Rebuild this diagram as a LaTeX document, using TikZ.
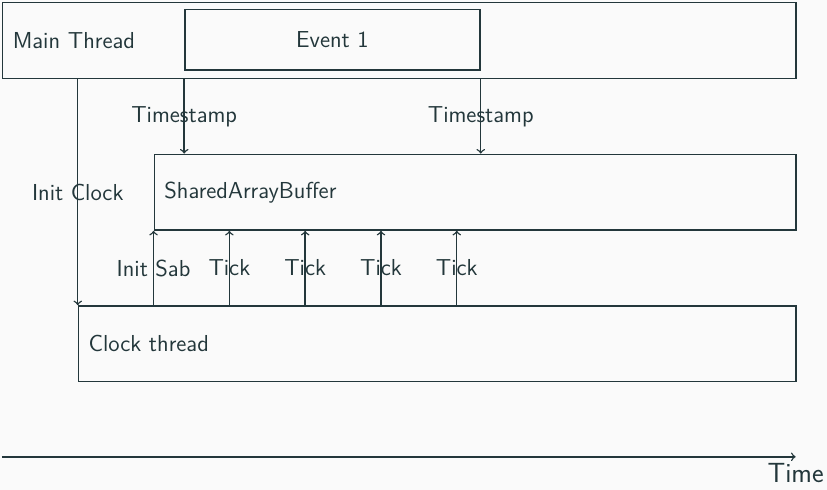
\documentclass[tikz,border=0pt]{standalone}
\usepackage{fontspec}
\definecolor{mdarkteal}{RGB}{35,55,59}
\definecolor{mbackground}{RGB}{250,250,250}

\begin{document}
\begin{tikzpicture}[x=1.5cm,y=1.5cm,color=mdarkteal,font=\sffamily\fontsize{13}{15.6}\selectfont]

%
% Styles
%
\tikzstyle{thread} = [draw,rectangle,anchor=north west,minimum height=1.5cm,inner xsep=0.2cm,align=left,thick]
\tikzstyle{event}  = [draw,rectangle,minimum width=5.84cm,minimum height=1.2cm,thick]
\tikzstyle{edge}   = [->,thick]

\useasboundingbox[fill=mbackground] (-0.026,0.026) rectangle (10.884,-6.438);

% threads and the shared buffer
\node[thread,text width=15.3cm] (main)  at (0,0)     {Main Thread};
\node[event]                    (event) at (4.36,-0.5) {Event 1};
\node[thread,text width=12.3cm] (sab)   at (2,-2)    {SharedArrayBuffer};
\node[thread,text width=13.8cm] (clock) at (1,-4)    {Clock thread};

% main thread writes timestamps
\draw[edge] (event.west |- main.south) -- node {Timestamp} (event.west |- sab.north);
\draw[edge] (event.east |- main.south) -- node {Timestamp} (event.east |- sab.north);

% clock thread
\draw[edge] (clock.north west |- main.south) -- node {Init Clock} (clock.north west);
\draw[edge] (sab.south west |- clock.north) -- node {Init Sab} (sab.south west);
\foreach \k in {1,...,4}
  \draw[edge] ([xshift=\k*1.5cm+1.5cm]clock.north west) -- node {Tick} ([xshift=\k*1.5cm]sab.south west);

% time axis
\coordinate (start) at (0,-6);
\coordinate (end)   at (10.47,-6);
\draw[edge] (start) -- (end) node[below,font=\sffamily\fontsize{15.6}{18.7}\selectfont] {Time};

\end{tikzpicture}
\end{document}
